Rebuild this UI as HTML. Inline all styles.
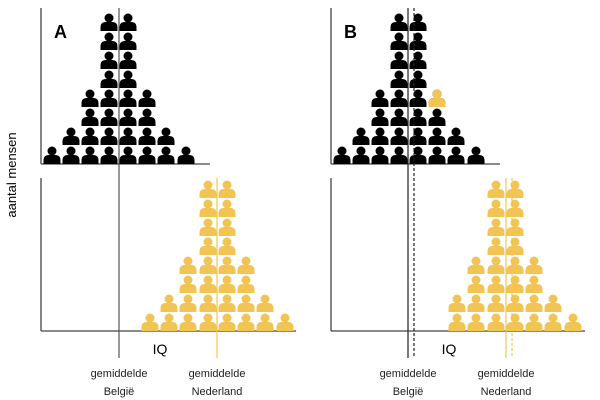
<!DOCTYPE html>
<html><head><meta charset="utf-8"><style>
html,body{margin:0;padding:0;background:#fff}
svg{display:block}
text{font-family:"Liberation Sans",sans-serif}
</style></head><body>
<svg id="s" width="600" height="400" viewBox="0 0 600 400" xmlns="http://www.w3.org/2000/svg">
<defs>
<g id="p"><circle cx="0" cy="-13" r="4.5"/><path d="M-8.5,0 L-8.5,-3.5 Q-8.5,-9 -3,-9 L3,-9 Q8.5,-9 8.5,-3.5 L8.5,0 Z"/></g>
</defs>
<g stroke="#444" stroke-width="1.3">
<line x1="41" y1="8" x2="41" y2="164"/><line x1="41" y1="164" x2="210" y2="164"/>
<line x1="41" y1="178" x2="41" y2="331"/><line x1="41" y1="331" x2="296" y2="331"/>
<line x1="331" y1="8" x2="331" y2="164"/><line x1="331" y1="164" x2="500" y2="164"/>
<line x1="331" y1="178" x2="331" y2="331"/><line x1="331" y1="331" x2="585" y2="331"/>
</g>
<g id="icons"></g>
<g stroke-width="1.2">
<line x1="119" y1="8" x2="119" y2="358" stroke="#555"/>
<line x1="217" y1="178" x2="217" y2="358" stroke="#f2c453"/>
<line x1="408" y1="8" x2="408" y2="358" stroke="#222"/>
<line x1="414" y1="8" x2="414" y2="358" stroke="#222" stroke-dasharray="3,2"/>
<line x1="506" y1="178" x2="506" y2="358" stroke="#f2c453"/>
<line x1="512" y1="178" x2="512" y2="358" stroke="#f2c453" stroke-dasharray="3,2"/>
</g>
<text x="54" y="38" font-size="18" font-weight="bold">A</text>
<text x="344" y="38" font-size="18" font-weight="bold">B</text>
<text x="160" y="354" font-size="14" text-anchor="middle">IQ</text>
<text x="449" y="354" font-size="14" text-anchor="middle">IQ</text>
<g font-size="11" text-anchor="middle" fill="#222">
<text x="119" y="377">gemiddelde</text><text x="119" y="395">België</text>
<text x="217" y="377">gemiddelde</text><text x="217" y="395">Nederland</text>
<text x="408" y="377">gemiddelde</text><text x="408" y="395">België</text>
<text x="506" y="377">gemiddelde</text><text x="506" y="395">Nederland</text>
</g>
<text transform="translate(16,175) rotate(-90)" font-size="13" text-anchor="middle">aantal mensen</text>
</svg>
<script>
var g=document.getElementById('icons'),NS='http://www.w3.org/2000/svg';
function put(x,b,c){var u=document.createElementNS(NS,'use');u.setAttribute('href','#p');u.setAttributeNS('http://www.w3.org/1999/xlink','xlink:href','#p');u.setAttribute('transform','translate('+x+','+b+')');u.setAttribute('fill',c);g.appendChild(u);}
function col(xs,hs,b,c){for(var i=0;i<xs.length;i++)for(var r=0;r<hs[i];r++)put(xs[i],b-r*19,c);}
var H=[1,2,4,8,8,4,2,1];
var topX=[52,71,90,109,128,147,166,186];
col(topX,H,164,'#000');
col(topX.map(function(v){return v+290}),H,164,'#000');
put(437,164-3*19,'#f2c453');
var botX=[150,169,188,208,227,246,265,285];
col(botX,H,331,'#f2c453');
col([457,476,496,515,534,553,573],[2,4,8,8,4,2,1],331,'#f2c453');
</script>
</body></html>
